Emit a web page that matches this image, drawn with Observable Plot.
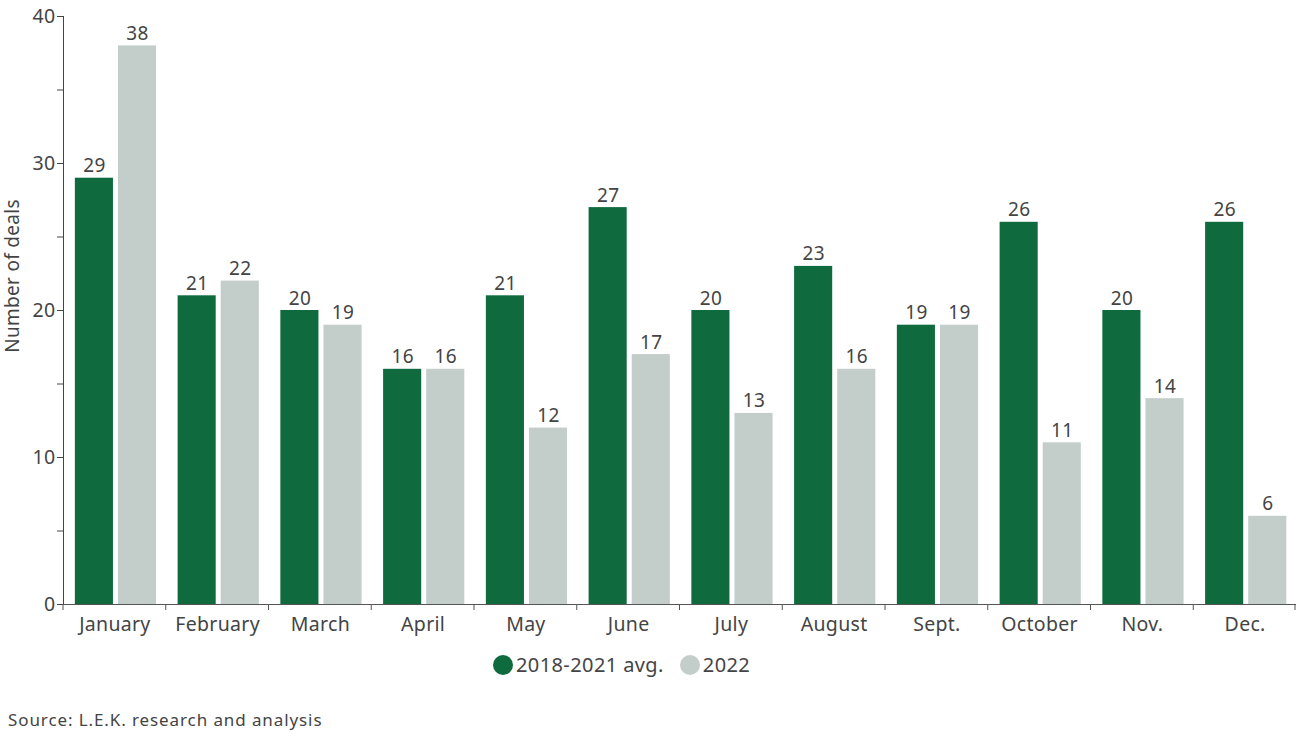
<!DOCTYPE html>
<html>
<head>
<meta charset="utf-8">
<script src="https://cdn.jsdelivr.net/npm/d3@7"></script>
<script src="https://cdn.jsdelivr.net/npm/@observablehq/plot@0.6"></script>
<style>
  html, body { margin: 0; padding: 0; background: #fff; }
  body { width: 1300px; height: 740px; font-family: "Noto Sans", sans-serif; color: #444; position: relative; }
  #legend { position: absolute; left: 493px; top: 651px; display: flex; align-items: center; font-size: 20px; color: #444; letter-spacing: 0.4px; }
  .sw { width: 20px; height: 20px; border-radius: 50%; display: inline-block; margin-right: 3px; }
  .item { display: flex; align-items: center; margin-right: 16px; }
  #source { position: absolute; left: 8px; top: 708px; font-size: 17px; color: #444; letter-spacing: 0.9px; }
  svg text { letter-spacing: 0.3px; }
</style>
</head>
<body>
<div id="chart"></div>
<div id="legend"></div>
<div id="source">Source: L.E.K. research and analysis</div>
<script>
const months = ["January","February","March","April","May","June","July","August","Sept.","October","Nov.","Dec."];
const seriesNames = ["2018-2021 avg.", "2022"];
const avgValues = [29, 21, 20, 16, 21, 27, 20, 23, 19, 26, 20, 26];
const values2022 = [38, 22, 19, 16, 12, 17, 13, 16, 19, 11, 14, 6];
const yTicks = [0, 5, 10, 15, 20, 25, 30, 35, 40];
const colors = ["#0f6b3d", "#c3cdca"];

const data = [];
months.forEach((m, i) => {
  data.push({month: m, series: seriesNames[0], value: avgValues[i]});
  data.push({month: m, series: seriesNames[1], value: values2022[i]});
});

const plot = Plot.plot({
  width: 1300,
  height: 640,
  marginLeft: 63,
  marginRight: 4,
  marginTop: 16,
  marginBottom: 36,
  style: {fontFamily: "'Noto Sans', sans-serif", fontSize: "19.5px", color: "#444", background: "#fff"},
  fx: {domain: months, padding: 0, round: false, label: null, tickSize: 0, tickPadding: 13, axis: "bottom"},
  x: {domain: seriesNames, axis: null, round: false, paddingInner: 0.116, paddingOuter: 0.25, align: 0.55},
  y: {domain: [0, 40], ticks: yTicks, tickFormat: d => d % 10 === 0 ? d : "", tickSize: 6, tickPadding: 2, line: true, label: null},
  color: {domain: seriesNames, range: colors},
  marks: [
    Plot.barY(data, {fx: "month", x: "series", y: "value", fill: "series"}),
    Plot.text(data, {fx: "month", x: "series", y: "value", text: d => String(d.value), dy: -12, fontSize: 19, fill: "#444"}),
    Plot.ruleY([0], {stroke: "#555"})
  ]
});

document.getElementById("chart").appendChild(plot);

// y axis title
const svg = d3.select(plot);
const ys = plot.scale("y");
svg.append("text")
  .attr("transform", `translate(19,276) rotate(-90)`)
  .attr("text-anchor", "middle")
  .attr("font-size", 19)
  .attr("fill", "#444")
  .text("Number of deals");

// boundary ticks between month groups
const fxs = plot.scale("fx");
const bounds = months.map(m => fxs.apply(m)).concat([fxs.apply(months[months.length - 1]) + fxs.bandwidth - 1]);
const y0 = ys.apply(0);
svg.append("g").attr("stroke", "#555")
  .selectAll("line").data(bounds).join("line")
  .attr("x1", d => d).attr("x2", d => d)
  .attr("y1", y0).attr("y2", y0 + 6);

// legend
const legend = document.getElementById("legend");
seriesNames.forEach((s, i) => {
  const item = document.createElement("span");
  item.className = "item";
  item.innerHTML = `<span class="sw" style="background:${colors[i]}"></span>${s}`;
  legend.appendChild(item);
});
</script>
</body>
</html>
